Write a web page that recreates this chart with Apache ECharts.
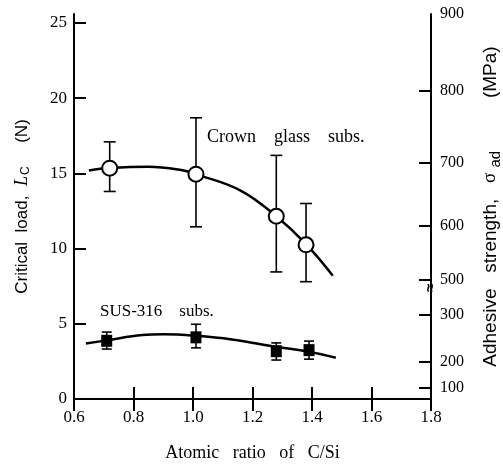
<!DOCTYPE html>
<html>
<head>
<meta charset="utf-8">
<script src="https://cdn.jsdelivr.net/npm/echarts@6/dist/echarts.min.js"></script>
<style>
  html, body { margin: 0; padding: 0; background: #fff; }
  #c { width: 503px; height: 466px; }
</style>
</head>
<body>
<div id="c"></div>
<script>
// crown glass substrates: measured points with error bars
const crownX = [0.72, 1.01, 1.28, 1.38]
const crownY = [15.35, 14.95, 12.15, 10.25]
const crownHi = [17.1, 18.7, 16.2, 13.0]
const crownLo = [13.8, 11.45, 8.45, 7.8]
// hand-drawn fit curve
const crownCurveX = [0.65, 0.72, 0.85, 0.96, 1.01, 1.16, 1.28, 1.38, 1.47]
const crownCurveY = [15.2, 15.36, 15.45, 15.23, 14.95, 13.86, 12.15, 10.3, 8.2]

// SUS-316 substrates
const susX = [0.71, 1.01, 1.28, 1.39]
const susY = [3.87, 4.1, 3.18, 3.25]
const susHi = [4.45, 4.97, 3.73, 3.85]
const susLo = [3.32, 3.4, 2.59, 2.65]
const susCurveX = [0.64, 0.71, 0.83, 0.9, 1.01, 1.13, 1.28, 1.39, 1.48]
const susCurveY = [3.69, 3.9, 4.25, 4.3, 4.2, 3.96, 3.47, 3.14, 2.74]

// right axis (adhesive strength) is non-linear: label -> position on the Lc scale
const rightLabels = ['100', '200', '300', '500', '600', '700', '800', '900']
const rightPos = [0.73, 2.45, 5.6, 7.9, 11.5, 15.7, 20.5, 25.6]

const serif = '"Liberation Serif", "DejaVu Serif", serif'
const sans = '"Liberation Sans", Arial, sans-serif'

const pairs = (xs, ys) => xs.map((x, i) => [x, ys[i]])
const errData = (xs, lo, hi) => xs.map((x, i) => [x, lo[i], hi[i]])

function errorBar(cap) {
  return function (params, api) {
    const top = api.coord([api.value(0), api.value(2)])
    const bot = api.coord([api.value(0), api.value(1)])
    const st = { stroke: '#000', lineWidth: 1.6 }
    return {
      type: 'group',
      children: [
        { type: 'line', shape: { x1: top[0], y1: top[1], x2: bot[0], y2: bot[1] }, style: st },
        { type: 'line', shape: { x1: top[0] - cap, y1: top[1], x2: top[0] + cap, y2: top[1] }, style: st },
        { type: 'line', shape: { x1: bot[0] - cap, y1: bot[1], x2: bot[0] + cap, y2: bot[1] }, style: st },
      ],
    }
  }
}

const axisLine = { show: true, lineStyle: { color: '#000', width: 2 } }
const tick = { show: true, inside: true, length: 12, lineStyle: { color: '#000', width: 2 } }

const chart = echarts.init(document.getElementById('c'))
chart.setOption({
  animation: false,
  backgroundColor: '#fff',
  grid: { left: 74, right: 72, top: 14, bottom: 67, outerBoundsMode: 'none', containLabel: false },
  xAxis: [
    {
      type: 'value', min: 0.6, max: 1.8, interval: 0.2,
      axisLine, axisTick: tick, splitLine: { show: false },
      axisLabel: { color: '#000', fontFamily: serif, fontSize: 17, margin: 10, formatter: (v) => v.toFixed(1) },
      name: 'Atomic   ratio   of   C/Si', nameLocation: 'middle', nameGap: 45,
      nameTextStyle: { color: '#000', fontFamily: serif, fontSize: 18 },
    },
    {
      type: 'value', min: 0.6, max: 1.8, interval: 0.2, position: 'top',
      axisLine, axisTick: tick, axisLabel: { show: false }, splitLine: { show: false },
    },
  ],
  yAxis: [
    {
      type: 'value', min: 0, max: 25.6, interval: 5,
      axisLine, axisTick: tick, splitLine: { show: false },
      axisLabel: { color: '#000', fontFamily: serif, fontSize: 17, margin: 7, showMaxLabel: false },
      name: '{n|Critical  load,  }{i|L}{s|C}{n|     (N)}', nameLocation: 'middle', nameGap: 42, nameRotate: 90,
      nameTextStyle: {
        rich: {
          n: { color: '#000', fontFamily: sans, fontSize: 17 },
          i: { color: '#000', fontFamily: serif, fontSize: 18, fontStyle: 'italic' },
          s: { color: '#000', fontFamily: sans, fontSize: 12, padding: [8, 0, 0, 1] },
        },
      },
    },
    {
      type: 'value', min: 0, max: 25.6, position: 'right',
      axisLine, splitLine: { show: false },
      axisTick: Object.assign({}, tick, { customValues: rightPos.slice(0, 7) }),
      axisLabel: {
        color: '#000', fontFamily: serif, fontSize: 16, margin: 9,
        customValues: rightPos,
        formatter: (v) => {
          let best = 0
          rightPos.forEach((p, i) => { if (Math.abs(p - v) < Math.abs(rightPos[best] - v)) best = i })
          return rightLabels[best]
        },
      },
      name: '{n|Adhesive   strength,   }{g|σ}{s| ad}{n|          (MPa)}', nameLocation: 'middle', nameGap: 47, nameRotate: 90,
      nameTextStyle: {
        rich: {
          n: { color: '#000', fontFamily: sans, fontSize: 19 },
          g: { color: '#000', fontFamily: serif, fontSize: 19 },
          s: { color: '#000', fontFamily: sans, fontSize: 15, padding: [10, 0, 0, 1] },
        },
      },
    },
  ],
  graphic: [
    { type: 'text', left: 207, top: 128, style: { text: 'Crown    glass    subs.', font: '18px ' + serif, fill: '#000' } },
    { type: 'text', left: 100, top: 303, style: { text: 'SUS-316    subs.', font: '17px ' + serif, fill: '#000' } },
    {
      type: 'text', x: 431, y: 288, rotation: Math.PI / 2, z: 10,
      style: { text: '≈', font: 'bold 15px ' + sans, fill: '#000', align: 'center', verticalAlign: 'middle' },
    },
  ],
  series: [
    {
      type: 'line', smooth: 0.4, showSymbol: false, data: pairs(crownCurveX, crownCurveY),
      lineStyle: { color: '#000', width: 2.5 }, z: 2,
    },
    {
      type: 'line', smooth: 0.4, showSymbol: false, data: pairs(susCurveX, susCurveY),
      lineStyle: { color: '#000', width: 2.5 }, z: 2,
    },
    { type: 'custom', renderItem: errorBar(6), data: errData(crownX, crownLo, crownHi), z: 3 },
    { type: 'custom', renderItem: errorBar(5), data: errData(susX, susLo, susHi), z: 3 },
    {
      type: 'scatter', data: pairs(crownX, crownY), symbol: 'circle', symbolSize: 15,
      itemStyle: { color: '#fff', borderColor: '#000', borderWidth: 2, opacity: 1 }, z: 4,
    },
    {
      type: 'scatter', data: pairs(susX, susY), symbol: 'rect', symbolSize: [11, 12],
      itemStyle: { color: '#000', opacity: 1 }, z: 4,
    },
  ],
})
</script>
</body>
</html>
